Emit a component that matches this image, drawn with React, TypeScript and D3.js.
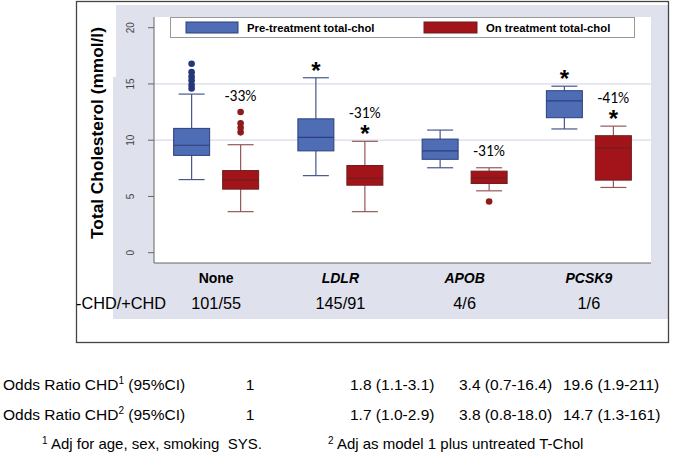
import * as d3 from 'd3';
import React from 'react';

// groups along the x axis
const groups = ['None', 'LDLR', 'APOB', 'PCSK9'];
const italicGroup = [false, true, true, true];

// box stats as [min, q1, median, q3, max] (mmol/l)
const preTreatment = [
  [6.5, 8.65, 9.55, 11.05, 14.1],
  [6.85, 9.05, 10.25, 11.9, 15.55],
  [7.55, 8.3, 9.05, 10.1, 10.9],
  [11.0, 12.0, 13.5, 14.4, 14.8],
];
const onTreatment = [
  [3.65, 5.65, 6.45, 7.3, 9.6],
  [3.65, 6.0, 6.6, 7.75, 9.9],
  [5.5, 6.15, 6.65, 7.25, 7.55],
  [5.8, 6.45, 9.3, 10.4, 11.25],
];
const preOutliers = [[14.6, 14.9, 15.3, 15.65, 16.05, 16.8], [], [], []];
const onOutliers = [[10.7, 11.1, 11.5, 12.5], [], [4.55], []];

// significance stars and % change labels
const preStar = [false, true, false, true];
const onStar = [false, true, false, true];
const pctChange = ['-33%', '-31%', '-31%', '-41%'];

const chdCounts = ['101/55', '145/91', '4/6', '1/6'];
const yTicks = [0, 5, 10, 15, 20];
const gridValues = [10, 15];

const oddsRatio1 = ['1', '1.8 (1.1-3.1)', '3.4 (0.7-16.4)', '19.6 (1.9-211)'];
const oddsRatio2 = ['1', '1.7 (1.0-2.9)', '3.8 (0.8-18.0)', '14.7 (1.3-161)'];

const W = 687;
const H = 458;

const plot = { left: 154, right: 651, top: 17, bottom: 263 };
const ARIAL = '"Liberation Sans", Arial, sans-serif';
const LATO = 'Carlito, Calibri, Lato, sans-serif';

const BLUE = { fill: '#4e6db4', stroke: '#2e3e7e', whisker: '#46568c', dot: '#26367a' };
const RED = { fill: '#a3141a', stroke: '#6b1f1f', whisker: '#955858', dot: '#8c1c1c' };

const BoxPlot = ({ cx, stats, outliers, colors, y }) => {
  const bw = 36;
  const cap = 26;
  const [mn, q1, md, q3, mx] = stats;
  return (
    <g>
      <line x1={cx} x2={cx} y1={y(mx)} y2={y(q3)} stroke={colors.whisker} strokeWidth={1.2} />
      <line x1={cx} x2={cx} y1={y(q1)} y2={y(mn)} stroke={colors.whisker} strokeWidth={1.2} />
      <line x1={cx - cap / 2} x2={cx + cap / 2} y1={y(mx)} y2={y(mx)} stroke={colors.whisker} strokeWidth={1.2} />
      <line x1={cx - cap / 2} x2={cx + cap / 2} y1={y(mn)} y2={y(mn)} stroke={colors.whisker} strokeWidth={1.2} />
      <rect x={cx - bw / 2} y={y(q3)} width={bw} height={y(q1) - y(q3)} fill={colors.fill} stroke={colors.stroke} strokeWidth={1} />
      <line x1={cx - bw / 2} x2={cx + bw / 2} y1={y(md)} y2={y(md)} stroke={colors.stroke} strokeWidth={1.2} />
      {outliers.map((o, i) => (
        <circle key={i} cx={cx} cy={y(o)} r={3.3} fill={colors.dot} />
      ))}
    </g>
  );
};

const App = () => {
  const y = d3.scaleLinear().domain([0, 20]).range([252.7, 27.7]);
  const x = d3.scaleBand().domain(groups).range([plot.left, plot.right]);
  const half = x.bandwidth() / 2;
  const offset = 24.5;

  const topOf = (stats, outs) => Math.min(y(stats[4]), ...outs.map((o) => y(o)));

  return (
    <svg width={W} height={H} style={{ position: 'absolute', left: 0, top: 0 }}>
      <rect x={0} y={0} width={W} height={H} fill="white" />
      {/* grey panel */}
      <rect x={116} y={5} width={552} height={80} fill="#dfe1ed" />
      <rect x={113} y={77} width={555} height={242} fill="#dfe1ed" />
      <rect x={76.5} y={1.5} width={592} height={341} fill="none" stroke="#444" strokeWidth={1.3} />

      {/* plot area */}
      <rect x={plot.left} y={plot.top} width={plot.right - plot.left} height={plot.bottom - plot.top} fill="white" />
      {gridValues.map((g) => (
        <line key={g} x1={plot.left} x2={plot.right} y1={y(g)} y2={y(g)} stroke="#d9dce9" strokeWidth={1.2} />
      ))}
      <line x1={plot.left} x2={plot.left} y1={plot.top} y2={plot.bottom} stroke="#666" strokeWidth={1} />
      <line x1={plot.left} x2={plot.right} y1={plot.bottom} y2={plot.bottom} stroke="#666" strokeWidth={1} />
      {yTicks.map((t) => (
        <g key={t}>
          <line x1={plot.left - 6} x2={plot.left} y1={y(t)} y2={y(t)} stroke="#666" />
          <text
            transform={`translate(${134},${y(t)}) rotate(-90)`}
            textAnchor="middle"
            fontFamily={ARIAL}
            fontSize={10}
            fill="#444"
          >
            {t}
          </text>
        </g>
      ))}
      <text
        transform={`translate(${103},${133}) rotate(-90)`}
        textAnchor="middle"
        fontFamily={ARIAL}
        fontWeight="bold"
        fontSize={17.3}
        fill="#000"
      >
        Total Cholesterol (mmol/l)
      </text>

      {/* legend */}
      <rect x={170.5} y={17.5} width={464} height={20} fill="white" stroke="#999" />
      <rect x={186} y={22} width={52} height={11} fill={BLUE.fill} stroke={BLUE.stroke} />
      <text x={247} y={31.5} fontFamily={ARIAL} fontWeight="bold" fontSize={11.3}>
        Pre-treatment total-chol
      </text>
      <rect x={424} y={22} width={53} height={11} fill={RED.fill} stroke={RED.stroke} />
      <text x={486} y={31.5} fontFamily={ARIAL} fontWeight="bold" fontSize={11.3}>
        On treatment total-chol
      </text>

      {groups.map((gname, i) => {
        const c = x(gname) + half;
        const preTop = topOf(preTreatment[i], preOutliers[i]);
        const onTop = topOf(onTreatment[i], onOutliers[i]);
        const onStarY = onTop - 12;
        const pctY = (onStar[i] ? onStarY : onTop) - 17;
        return (
          <g key={gname}>
            <BoxPlot cx={c - offset} stats={preTreatment[i]} outliers={preOutliers[i]} colors={BLUE} y={y} />
            <BoxPlot cx={c + offset} stats={onTreatment[i]} outliers={onOutliers[i]} colors={RED} y={y} />
            {preStar[i] && (
              <text x={c - offset} y={preTop - 12 + 13} textAnchor="middle" fontFamily={ARIAL} fontWeight="bold" fontSize={24}>
                *
              </text>
            )}
            {onStar[i] && (
              <text x={c + offset} y={onStarY + 13} textAnchor="middle" fontFamily={ARIAL} fontWeight="bold" fontSize={24}>
                *
              </text>
            )}
            <text x={c + offset} y={pctY + 5.5} textAnchor="middle" fontFamily={LATO} fontSize={15.5}>
              {pctChange[i]}
            </text>
            <text
              x={c}
              y={283}
              textAnchor="middle"
              fontFamily={ARIAL}
              fontWeight="bold"
              fontStyle={italicGroup[i] ? 'italic' : 'normal'}
              fontSize={14}
            >
              {gname}
            </text>
            <text x={c} y={309} textAnchor="middle" fontFamily={ARIAL} fontSize={16.3}>
              {chdCounts[i]}
            </text>
          </g>
        );
      })}
      <text x={76} y={309} fontFamily={ARIAL} fontSize={16.3}>
        -CHD/+CHD
      </text>

      {/* odds ratio table */}
      {[oddsRatio1, oddsRatio2].map((row, r) => {
        const ty = 390 + r * 30;
        const colX = [250, 350, 459, 563];
        return (
          <g key={r} fontFamily={ARIAL} fontSize={15.5}>
            <text x={3} y={ty}>
              Odds Ratio CHD<tspan fontSize={10} dy={-6}>{r + 1}</tspan>
              <tspan dy={6}> (95%CI)</tspan>
            </text>
            {row.map((v, j) => (
              <text key={j} x={colX[j]} y={ty} textAnchor={j === 0 ? 'middle' : 'start'}>
                {v}
              </text>
            ))}
          </g>
        );
      })}

      {/* footnotes */}
      <text x={42} y={449} fontFamily={ARIAL} fontSize={15} style={{ whiteSpace: 'pre' }}>
        <tspan fontSize={10} dy={-5}>1</tspan>
        <tspan dy={5}>{' Adj for age, sex, smoking  SYS.'}</tspan>
      </text>
      <text x={328} y={449} fontFamily={ARIAL} fontSize={15} style={{ whiteSpace: 'pre' }}>
        <tspan fontSize={10} dy={-5}>2</tspan>
        <tspan dy={5}>{' Adj as model 1 plus untreated T-Chol'}</tspan>
      </text>
    </svg>
  );
};

export default App;
